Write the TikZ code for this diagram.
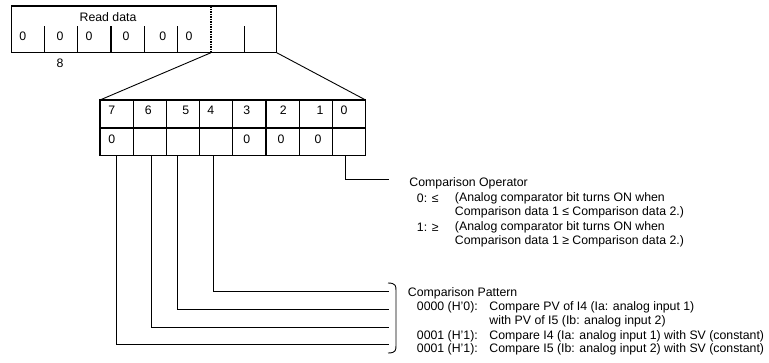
\documentclass[tikz,border=0pt]{standalone}
\usepackage{fontspec}
\setmainfont{Liberation Sans}
\begin{document}
\begin{tikzpicture}[x=1pt,y=-1pt,line width=0.9pt,
	txt/.style={anchor=west,inner sep=0,font=\fontsize{12.3}{14}\selectfont},
	dig/.style={txt,anchor=center},
	boxline/.style={line width=1.2pt}]
	\useasboundingbox (0,0) rectangle (769,362);
	% dato letto
	\draw[boxline] (11.7,6) rectangle (276.7,52.7);
	\foreach \x in {44.3,77.7,111,144.3,177.7,244.3}
		\draw[boxline] (\x,26) -- (\x,52.7);
	\draw[densely dotted,line width=1.5pt] (211,6) -- (211,52.7);
	\node[dig] (read) at (108,17) {Read data};
	\foreach \x [count=\i] in {22.7,60,89,126,162.7,189}
		\node[dig] (d\i) at (\x,36) {0};
	\node[dig] (eight) at (60,63) {8};
	\coordinate (split) at (211,52.7);
	\coordinate (wend) at (276.7,52.7);
	% byte espanso
	\draw[boxline] (100,100) rectangle (365.6,155.7);
	\draw[boxline] (100,128) -- (365.6,128);
	\foreach \i in {1,...,7}
		\draw[boxline] (100+33.2*\i,100) -- (100+33.2*\i,155.7);
	\coordinate (bl) at (100,100);
	\coordinate (br) at (365.6,100);
	\draw (split) -- (bl);
	\draw (wend) -- (br);
	\foreach \b/\x in {7/111.7,6/148.3,5/185.7,4/210.7,3/246.7,2/283.3,1/320,0/344}
		\node[dig] (n\b) at (\x,110.7) {\b};
	\foreach \b/\x in {7/111.7,3/246.7,2/281,1/318}
		\node[dig] (v\b) at (\x,139.3) {0};
	% linee dei bit
	\foreach \b/\x/\y in {7/116/344.7,6/151/327.3,5/177.7/309.3,4/213/291.7,0/345/179.3} {
		\coordinate (s\b) at (\x,155.7);
		\coordinate (e\b) at (389.3,\y);
		\draw (s\b) |- (e\b);
	}
	\draw (388,283) .. controls (396,283) and (396,286) .. (396,291) -- (396,345)
		.. controls (396,350) and (396,353) .. (388,353);
	% operatore
	\node[txt] (op) at (409,183.3) {Comparison Operator};
	\node[txt] (op0) at (416.5,198.3) {0: ≤};
	\node[txt] (op0a) at (454.5,198.3) {(Analog comparator bit turns ON when};
	\node[txt] (op0b) at (454.5,212.3) {Comparison data 1 ≤ Comparison data 2.)};
	\node[txt] (op1) at (416.5,227.3) {1: ≥};
	\node[txt] (op1a) at (454.5,227.3) {(Analog comparator bit turns ON when};
	\node[txt] (op1b) at (454.5,241) {Comparison data 1 ≥ Comparison data 2.)};
	% pattern
	\node[txt] (pat) at (407.5,293.3) {Comparison Pattern};
	\node[txt] (p0) at (416.5,307.7) {0000 (H'0):};
	\node[txt] (p0a) at (489,307.7) {Compare PV of I4 (Ia: analog input 1)};
	\node[txt] (p0b) at (489,321.7) {with PV of I5 (Ib: analog input 2)};
	\node[txt] (p1) at (416.5,336) {0001 (H'1):};
	\node[txt] (p1a) at (489,336) {Compare I4 (Ia: analog input 1) with SV (constant)};
	\node[txt] (p2) at (416.5,349) {0001 (H'1):};
	\node[txt] (p2a) at (489,349) {Compare I5 (Ib: analog input 2) with SV (constant)};
\end{tikzpicture}
\end{document}
